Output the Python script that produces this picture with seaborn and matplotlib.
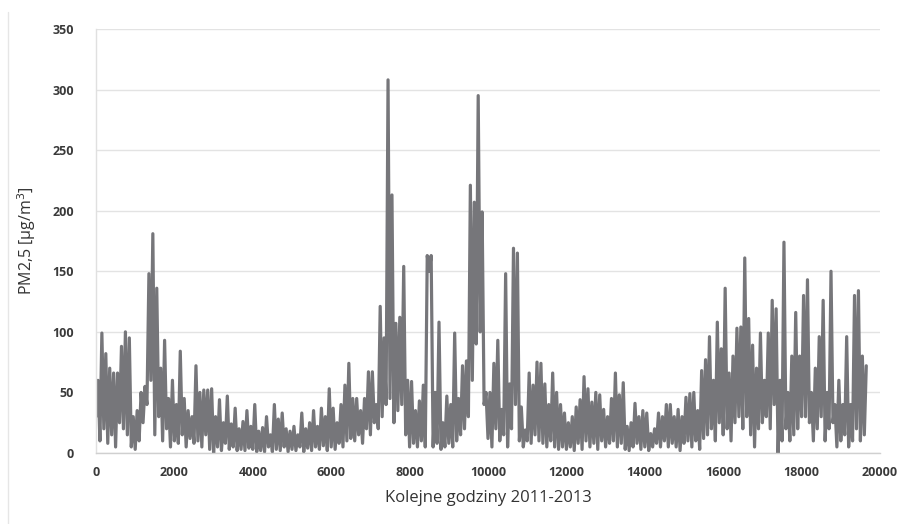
import numpy as np
import pandas as pd
import matplotlib
matplotlib.use("Agg")
import matplotlib.pyplot as plt
from matplotlib.lines import Line2D
import seaborn as sns

hours = np.arange(0, 19651, 50)

pm25 = [
    # 0-1000
    30, 60, 10, 99, 20, 82, 8, 70, 15, 66, 5, 66, 25, 88, 20, 100, 15, 95, 5, 30,
    # 1000-2000
    3, 35, 10, 50, 25, 55, 40, 148, 60, 181, 15, 136, 30, 70, 10, 93, 20, 45, 5, 60,
    # 2000-3000
    10, 40, 8, 84, 15, 45, 5, 35, 12, 30, 8, 72, 10, 50, 5, 52, 15, 52, 3, 53,
    # 3000-4000
    0, 30, 5, 44, 2, 25, 8, 47, 3, 24, 5, 37, 2, 20, 3, 26, 2, 35, 4, 22,
    # 4000-5000
    3, 40, 1, 18, 2, 21, 1, 30, 5, 15, 1, 40, 3, 28, 2, 33, 5, 20, 1, 18,
    # 5000-6000
    3, 22, 2, 15, 5, 33, 1, 20, 4, 25, 2, 35, 5, 22, 3, 37, 6, 30, 2, 53,
    # 6000-7000
    5, 37, 3, 25, 8, 40, 5, 56, 10, 74, 12, 45, 10, 45, 15, 35, 8, 45, 20, 67,
    # 7000-8000
    15, 67, 25, 40, 20, 121, 30, 95, 40, 308, 45, 213, 25, 107, 35, 112, 40, 154, 15, 60,
    # 8000-9000
    5, 59, 8, 35, 5, 43, 10, 56, 5, 163, 150, 163, 5, 50, 8, 108, 3, 25, 5, 47,
    # 9000-10000
    8, 40, 5, 99, 10, 45, 15, 72, 20, 76, 30, 221, 60, 207, 90, 295, 100, 199, 40, 50,
    # 10000-11000
    12, 50, 5, 74, 20, 93, 10, 36, 15, 148, 5, 57, 20, 169, 40, 165, 10, 38, 5, 19,
    # 11000-12000
    10, 66, 8, 56, 15, 75, 10, 74, 8, 57, 5, 40, 10, 66, 5, 50, 3, 40, 5, 33,
    # 12000-13000
    3, 25, 5, 30, 2, 38, 8, 44, 3, 63, 10, 53, 5, 42, 8, 50, 3, 48, 10, 36,
    # 13000-14000
    5, 30, 8, 45, 10, 66, 5, 48, 8, 58, 3, 22, 2, 25, 5, 41, 8, 30, 3, 35,
    # 14000-15000
    5, 33, 2, 16, 5, 20, 8, 33, 5, 30, 10, 40, 5, 40, 8, 30, 5, 36, 2, 30,
    # 15000-16000
    8, 46, 10, 49, 5, 50, 10, 35, 3, 68, 12, 77, 15, 96, 20, 60, 10, 108, 25, 86,
    # 16000-17000
    15, 136, 20, 66, 10, 80, 25, 103, 30, 104, 20, 161, 30, 111, 15, 89, 5, 70, 20, 99,
    # 17000-18000
    25, 60, 30, 99, 20, 126, 40, 119, 0, 60, 10, 174, 20, 50, 10, 80, 15, 116, 20, 80,
    # 18000-19000
    30, 130, 30, 143, 25, 50, 10, 70, 20, 96, 30, 126, 10, 50, 20, 150, 25, 40, 5, 60,
    # 19000-19650
    10, 40, 15, 96, 5, 40, 10, 130, 20, 134, 10, 80, 15, 72,
]

y_ticks = [0, 50, 100, 150, 200, 250, 300, 350]
x_ticks = [0, 2000, 4000, 6000, 8000, 10000, 12000, 14000, 16000, 18000, 20000]
x_label = "Kolejne godziny 2011-2013"
y_label = "PM2,5 [µg/m$^3$]"

df = pd.DataFrame({"godzina": hours, "pm25": pm25})

sns.set_style("white")
plt.rcParams["font.family"] = ["Open Sans", "DejaVu Sans"]

fig = plt.figure(figsize=(9.05, 5.24), dpi=100)
ax = fig.add_axes([96 / 905, 71 / 524, 784 / 905, 424 / 524])

sns.lineplot(data=df, x="godzina", y="pm25", ax=ax, color="#76767a",
             linewidth=2.3, estimator=None, sort=False)

ax.set_xlim(0, 20000)
ax.set_ylim(0, 350)
ax.set_xticks(x_ticks)
ax.set_yticks(y_ticks)
ax.set_xticklabels([str(t) for t in x_ticks])
ax.set_yticklabels([str(t) for t in y_ticks])
ax.tick_params(axis="both", length=0, labelsize=9, colors="#3a3a3a")
ax.tick_params(axis="x", pad=9)
ax.tick_params(axis="y", pad=16)
for lbl in ax.get_xticklabels() + ax.get_yticklabels():
    lbl.set_fontweight("bold")

ax.yaxis.grid(True, color="#e3e3e3", linewidth=1)
ax.xaxis.grid(False)
ax.set_axisbelow(True)
for s in ["top", "right"]:
    ax.spines[s].set_visible(False)
ax.spines["left"].set_color("#e0e0e0")
ax.spines["bottom"].set_color("#d0d0d0")
ax.spines["left"].set_linewidth(1)
ax.spines["bottom"].set_linewidth(1)

ax.set_xlabel(x_label, fontsize=12, color="#333333", labelpad=8)
ax.set_ylabel(y_label, fontsize=11.5, color="#333333", labelpad=10)

fig.add_artist(Line2D([8 / 905, 8 / 905], [0, 1 - 12 / 524],
                      color="#e6e6e6", linewidth=1))

fig.savefig("out.png", dpi=100)
